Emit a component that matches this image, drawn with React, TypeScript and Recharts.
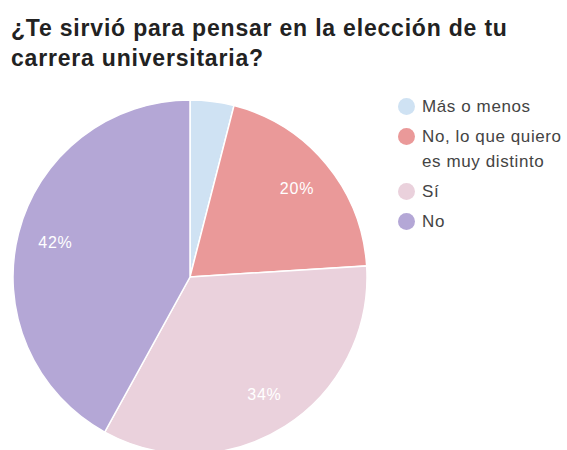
import { Cell, Legend, Pie, PieChart } from "recharts";

const categories = ["Más o menos", "No, lo que quiero es muy distinto", "Sí", "No"];
const shares = [4, 20, 34, 42];
const colors = ["#cfe2f3", "#ea9999", "#ead1dc", "#b4a7d6"];

const data = categories.map((name, i) => ({ name, value: shares[i] }));

const RADIAN = Math.PI / 180;
const FONT = "'Liberation Sans', Arial, sans-serif";

function renderLabel(props: any) {
  const { cx, cy, midAngle, outerRadius, percent } = props;
  if (percent < 0.05) return null;
  const r = outerRadius * 0.785;
  const x = cx + r * Math.cos(-midAngle * RADIAN);
  const y = cy + r * Math.sin(-midAngle * RADIAN);
  return (
    <text
      x={x}
      y={y}
      fill="#ffffff"
      textAnchor="middle"
      dominantBaseline="central"
      fontSize={16}
      letterSpacing={0.8}
      fontFamily={FONT}
    >
      {`${Math.round(percent * 100)}%`}
    </text>
  );
}

function LegendList() {
  return (
    <div style={{ fontFamily: FONT, fontSize: 17, letterSpacing: 0.6, color: "#444" }}>
      {categories.map((c, i) => (
        <div key={c} style={{ display: "flex", alignItems: "flex-start", marginBottom: 5 }}>
          <span
            style={{
              width: 17,
              height: 17,
              borderRadius: "50%",
              background: colors[i],
              flex: "none",
              marginTop: 4,
              marginRight: 7,
            }}
          />
          <span style={{ lineHeight: "25px", width: 148 }}>{c}</span>
        </div>
      ))}
    </div>
  );
}

export default function App() {
  return (
    <div style={{ position: "absolute", left: 0, top: 0, width: 567, height: 450, background: "#fff", overflow: "hidden" }}>
      <div
        style={{
          position: "absolute",
          left: 11,
          top: 13,
          fontFamily: FONT,
          fontWeight: "bold",
          fontSize: 23,
          letterSpacing: 0.8,
          lineHeight: "30px",
          color: "#222",
        }}
      >
        ¿Te sirvió para pensar en la elección de tu
        <br />
        carrera universitaria?
      </div>
      <PieChart width={567} height={450} margin={{ top: 0, right: 0, bottom: 0, left: 0 }}>
        <Pie
          data={data}
          dataKey="value"
          nameKey="name"
          cx={190}
          cy={277}
          outerRadius={177}
          startAngle={90}
          endAngle={-270}
          stroke="#ffffff"
          strokeWidth={1.5}
          label={renderLabel}
          labelLine={false}
          isAnimationActive={false}
        >
          {data.map((d, i) => (
            <Cell key={d.name} fill={colors[i]} />
          ))}
        </Pie>
        <Legend
          layout="vertical"
          align="right"
          verticalAlign="top"
          wrapperStyle={{ top: 94, left: 398, width: 169 }}
          content={() => <LegendList />}
        />
      </PieChart>
    </div>
  );
}
